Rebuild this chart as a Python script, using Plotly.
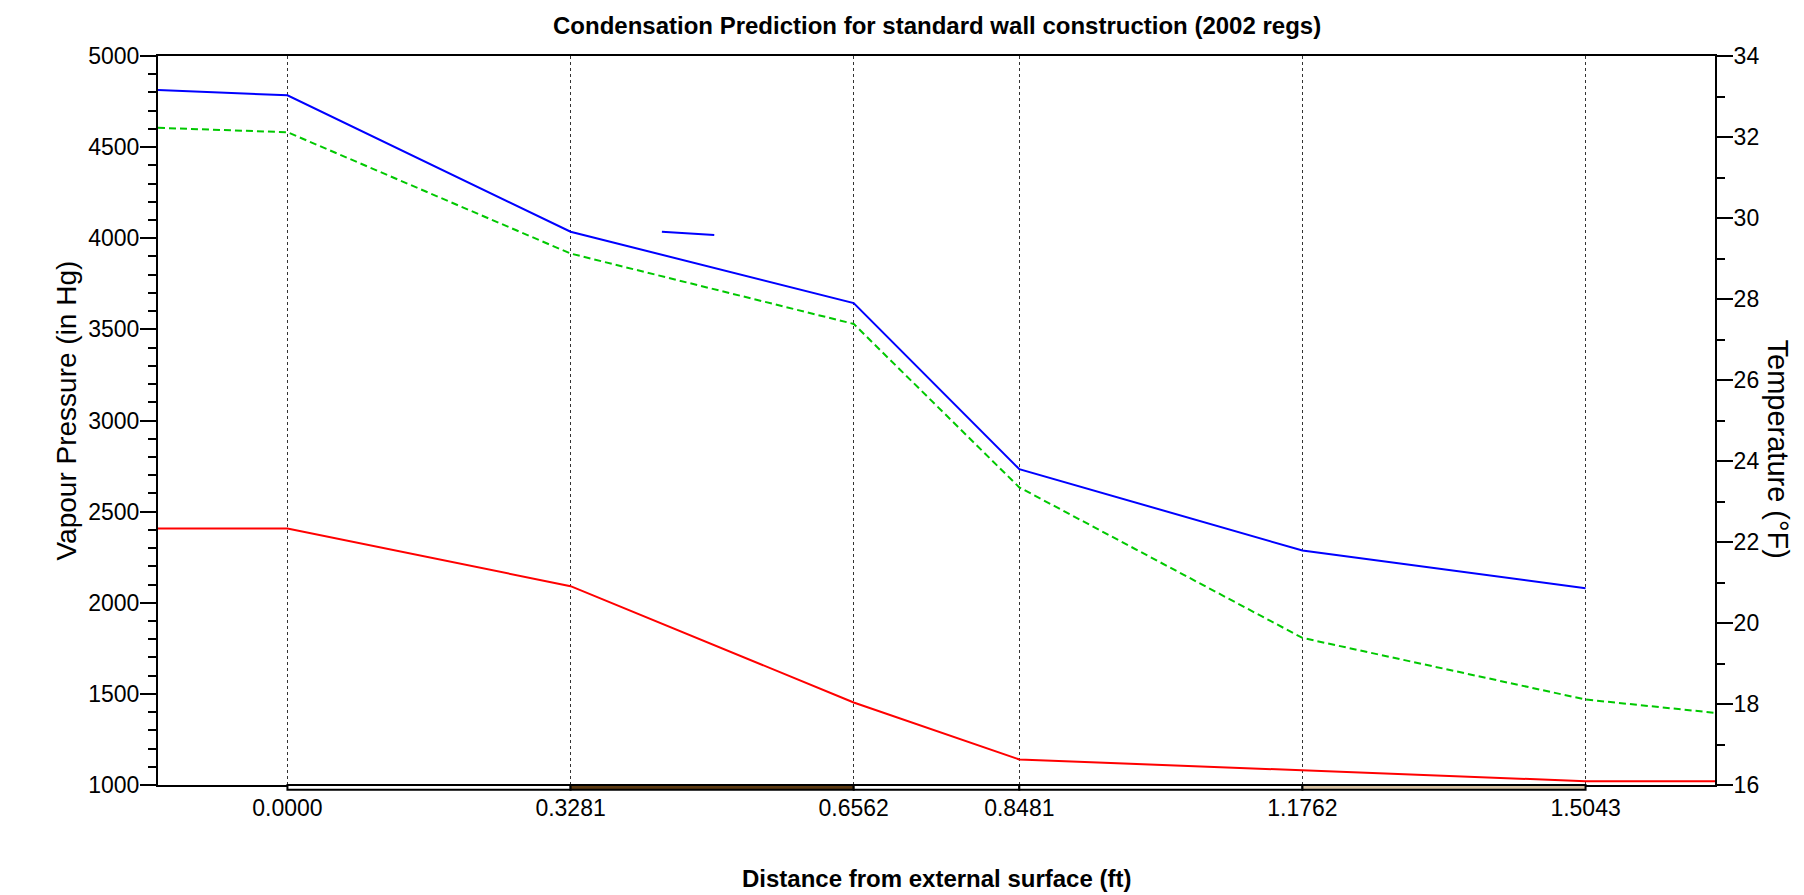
import plotly.graph_objects as go

# ---- data ----
boundaries = [0.0, 0.3281, 0.6562, 0.8481, 1.1762, 1.5043]
tick_labels = ["0.0000", "0.3281", "0.6562", "0.8481", "1.1762", "1.5043"]
x_min, x_max = -0.15, 1.6543

profile_x = [x_min] + boundaries + [x_max]
temperature_x = [x_min] + boundaries
temperature_f = [33.16, 33.03, 29.66, 27.90, 23.80, 21.79, 20.86]
saturation_vp = [4606, 4582, 3916, 3530, 2633, 1807, 1469, 1396]
actual_vp = [2407, 2407, 2091, 1453, 1140, 1081, 1021, 1021]

stray_x = [0.4339, 0.4946]
stray_t = [29.66, 29.58]

layer_fill = ["#ffffff", "#5c3a12", "#ffffff", "#ffffff", "#d9c3a5"]

FONT = "Liberation Sans, Arial, sans-serif"

fig = go.Figure()

fig.add_trace(go.Scatter(x=profile_x, y=saturation_vp, mode="lines",
                         line=dict(color="#00c800", width=2, dash="7px,4px"),
                         yaxis="y", showlegend=False))
fig.add_trace(go.Scatter(x=profile_x, y=actual_vp, mode="lines",
                         line=dict(color="#ff0000", width=2),
                         yaxis="y", showlegend=False))
fig.add_trace(go.Scatter(x=temperature_x, y=temperature_f, mode="lines",
                         line=dict(color="#0000ff", width=2),
                         yaxis="y2", showlegend=False))
fig.add_trace(go.Scatter(x=stray_x, y=stray_t, mode="lines",
                         line=dict(color="#0000ff", width=2),
                         yaxis="y2", showlegend=False))

shapes = []
for i in range(len(boundaries) - 1):
    shapes.append(dict(type="rect", xref="x", yref="paper",
                       x0=boundaries[i], x1=boundaries[i + 1],
                       y0=-0.0065, y1=0.0,
                       fillcolor=layer_fill[i],
                       line=dict(color="black", width=2), layer="above"))

fig.update_layout(
    width=1804, height=895,
    margin=dict(l=150, r=97, t=48, b=118),
    paper_bgcolor="white", plot_bgcolor="white",
    font=dict(family=FONT, size=23, color="black"),
    shapes=shapes,
    xaxis=dict(range=[x_min, x_max], tickvals=boundaries, ticktext=tick_labels,
               showgrid=True, gridcolor="#333333", griddash="dot", gridwidth=1,
               showline=True, linecolor="black", linewidth=2, mirror=True,
               ticks="", ticklabelstandoff=1, zeroline=False,
               tickfont=dict(size=23, family=FONT)),
    yaxis=dict(range=[1000, 5000], dtick=500, tick0=1000,
               showgrid=False, zeroline=False,
               showline=True, linecolor="black", linewidth=2,
               ticks="outside", ticklen=16, tickwidth=2, tickcolor="black",
               minor=dict(dtick=100, ticks="outside", ticklen=8, tickwidth=2, tickcolor="black"),
               ticklabelstandoff=-4,
               tickfont=dict(size=23, family=FONT)),
    yaxis2=dict(range=[16, 34], dtick=2, tick0=16, overlaying="y", side="right",
                showgrid=False, zeroline=False,
                showline=True, linecolor="black", linewidth=2,
                ticks="outside", ticklen=16, tickwidth=2, tickcolor="black",
                minor=dict(dtick=1, ticks="outside", ticklen=8, tickwidth=2, tickcolor="black"),
                ticklabelstandoff=-4,
                tickfont=dict(size=23, family=FONT)),
    annotations=[
        dict(text="<b>Condensation Prediction for standard wall construction (2002 regs)</b>",
             xref="paper", yref="paper", x=0.5, y=1, yshift=31, xanchor="center", yanchor="middle",
             showarrow=False, font=dict(size=24, family=FONT)),
        dict(text="<b>Distance from external surface (ft)</b>",
             xref="paper", yref="paper", x=0.5, y=0, yshift=-93, xanchor="center", yanchor="middle",
             showarrow=False, font=dict(size=24, family=FONT)),
        dict(text="Vapour Pressure (in Hg)", textangle=-90,
             xref="paper", yref="paper", x=0, y=0.5, xshift=-92, yshift=10,
             xanchor="center", yanchor="middle", showarrow=False,
             font=dict(size=28, family=FONT)),
        dict(text="Temperature (°F)", textangle=90,
             xref="paper", yref="paper", x=1, y=0.5, xshift=63, yshift=-28,
             xanchor="center", yanchor="middle", showarrow=False,
             font=dict(size=29, family=FONT)),
    ],
)

fig.write_html("out.html")
